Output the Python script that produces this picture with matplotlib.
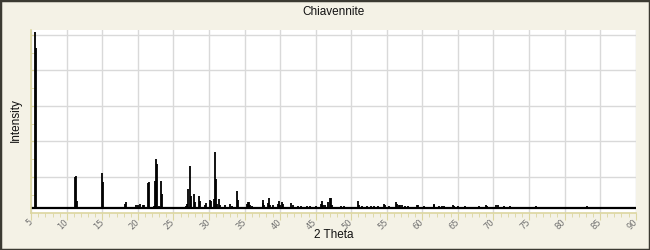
import numpy as np
import matplotlib.pyplot as plt
from matplotlib.patches import Rectangle
from matplotlib.ticker import MultipleLocator, FixedLocator

# Peak positions (2 theta) and relative intensities
two_theta = [5.47, 5.62, 11.15, 11.25, 11.5, 15.0, 15.14, 18.15, 18.3, 19.8,
             19.95, 20.25, 20.75, 20.85, 21.4, 21.55, 22.25, 22.37, 22.57, 22.7,
             22.9, 23.2, 23.35, 26.4, 26.6, 26.8, 26.9, 27.1, 27.3, 27.5,
             27.85, 28.0, 28.56, 28.7, 29.5, 29.55, 30.1, 30.25, 30.7, 30.85,
             31.0, 31.15, 31.4, 31.6, 32.3, 33.0, 33.2, 33.9, 34.05, 35.3,
             35.45, 35.6, 35.75, 36.0, 37.55, 37.65, 37.8, 38.3, 38.45, 38.6,
             39.0, 39.7, 39.85, 40.0, 40.3, 40.4, 41.6, 41.75, 42.5, 43.0,
             43.3, 43.8, 44.2, 44.5, 45.0, 45.7, 45.85, 46.0, 46.3, 46.8,
             46.95, 47.1, 47.3, 48.5, 49.0, 49.5, 50.9, 51.1, 51.5, 52.2,
             52.8, 53.2, 53.8, 54.6, 54.75, 55.3, 56.3, 56.5, 56.7, 56.9,
             57.15, 57.6, 58.0, 59.3, 59.45, 60.3, 61.6, 61.7, 62.3, 62.7,
             63.1, 64.25, 64.4, 65.0, 66.0, 66.3, 67.3, 68.0, 68.9, 69.1,
             70.4, 70.7, 71.5, 72.3, 73.9, 74.2, 76.0, 77.5, 78.4, 83.1,
             86.5]
intensity = [99, 90, 17.6, 18.0, 3.9, 19.7, 14.6, 2.5, 3.2, 1.5,
             1.8, 2.2, 1.7, 1.7, 14.0, 14.4, 1.0, 15.2, 27.9, 25.1,
             1.0, 15.2, 7.9, 0.8, 0.8, 1.2, 2.2, 10.7, 23.8, 6.7,
             7.9, 3.4, 6.7, 3.9, 1.5, 2.8, 4.5, 3.9, 5.1, 31.7,
             16.3, 2.2, 5.1, 2.0, 1.5, 2.2, 1.0, 9.6, 4.5, 2.5,
             3.4, 3.4, 2.0, 1.0, 3.0, 4.5, 2.0, 3.0, 5.4, 2.0,
             2.0, 2.5, 3.9, 2.0, 3.4, 2.5, 3.0, 1.5, 1.0, 1.0,
             0.8, 1.0, 1.0, 0.8, 1.2, 2.5, 4.1, 1.5, 2.0, 3.5,
             5.6, 5.6, 2.0, 1.0, 1.0, 0.8, 4.1, 2.0, 1.0, 1.0,
             1.0, 1.2, 1.0, 2.2, 1.5, 1.0, 3.4, 2.5, 2.0, 2.0,
             1.5, 1.0, 1.0, 1.5, 2.0, 1.0, 2.2, 1.5, 1.0, 1.0,
             1.0, 1.7, 1.2, 1.0, 1.0, 0.8, 0.8, 1.0, 1.7, 1.2,
             1.5, 1.5, 1.0, 1.0, 0.8, 0.8, 1.0, 0.8, 0.8, 1.0,
             0.8]
x_ticks = list(range(5, 95, 5))

bg = '#f4f2e6'
ruler = '#dcd6a0'

fig = plt.figure(figsize=(6.5, 2.5), dpi=100, facecolor=bg)
fig.patches.append(Rectangle((0, 0), 1, 1, transform=fig.transFigure,
                             fill=False, edgecolor='#3b3a32', linewidth=2.5))
ax = fig.add_axes([0.048, 0.15, 0.93, 0.73])
ax.set_facecolor('white')

ax.vlines(two_theta, 0, intensity, color='black', linewidth=1.3)
ax.axhline(0, color='black', linewidth=1.6)

ax.set_xlim(5, 90)
ax.set_ylim(-2.5, 100.3)

ax.xaxis.set_major_locator(FixedLocator(x_ticks))
ax.xaxis.set_minor_locator(MultipleLocator(1))
ax.yaxis.set_major_locator(FixedLocator(np.arange(17.5, 100, 20)))
ax.yaxis.set_minor_locator(FixedLocator(np.arange(7.5, 100, 20)))
ax.set_xticklabels([str(t) for t in x_ticks], rotation=45, ha='right', va='center',
                   rotation_mode='anchor', fontsize=6, color='#707070',
                   family='DejaVu Sans')
ax.set_yticklabels([])

ax.tick_params(axis='x', which='major', direction='out', length=5, color=ruler, pad=1)
ax.tick_params(axis='x', which='minor', direction='out', length=3, color=ruler)
ax.tick_params(axis='y', which='both', direction='in', length=3, color=ruler)

for side in ['top', 'right']:
    ax.spines[side].set_visible(False)
for side in ['left', 'bottom']:
    ax.spines[side].set_color(ruler)
    ax.spines[side].set_linewidth(1.2)

ax.grid(True, which='major', color='#d9d9d9', linewidth=1)
ax.set_axisbelow(True)

fig.text(0.513, 0.952, 'Chiavennite', ha='center', va='center', fontsize=8.5,
         family='Liberation Sans', color='#111111')
fig.text(0.513, 0.058, '2 Theta', ha='center', va='center', fontsize=8.5,
         family='Liberation Sans', color='#111111')
fig.text(0.025, 0.52, 'Intensity', ha='center', va='center', rotation=90,
         fontsize=8.5, family='Liberation Sans', color='#111111')

fig.savefig('out.png', dpi=100, facecolor=bg)
